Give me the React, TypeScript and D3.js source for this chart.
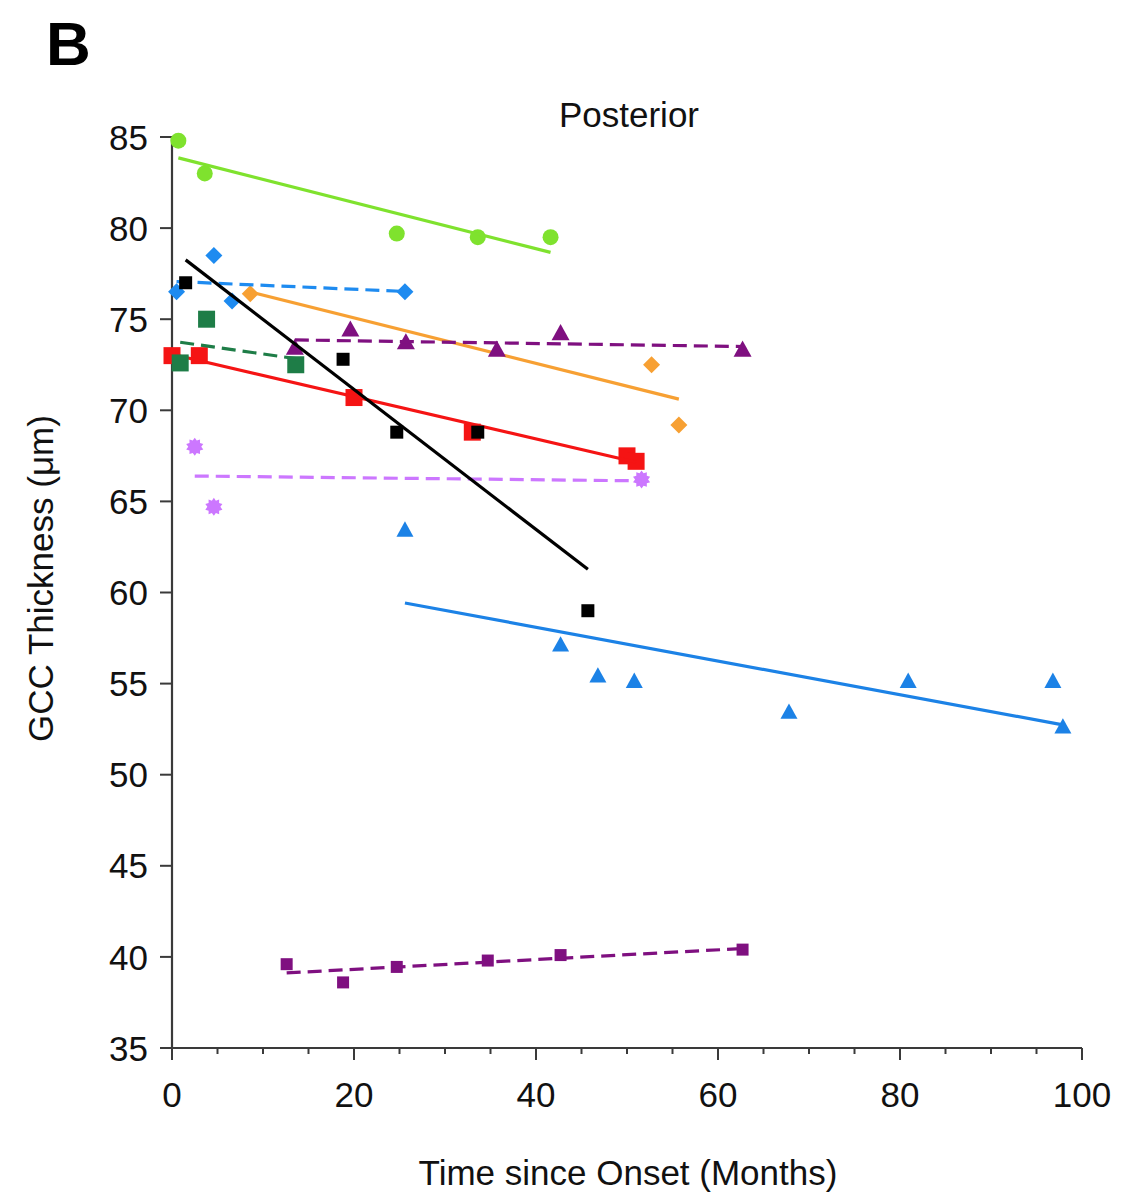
import React, { useEffect, useRef } from "react";
import * as d3 from "d3";

// ---- data ----
const xTicksMajor = [0, 20, 40, 60, 80, 100];
const yTicks = [35, 40, 45, 50, 55, 60, 65, 70, 75, 80, 85];

const limeX = [0.7, 3.6, 24.7, 33.6, 41.6];
const limeY = [84.8, 83.0, 79.7, 79.5, 79.5];

const blueDiaX = [0.5, 4.6, 6.6, 25.6];
const blueDiaY = [76.5, 78.5, 76.0, 76.5];

const blackX = [1.5, 18.8, 24.7, 33.6, 45.7];
const blackY = [77.0, 72.8, 68.8, 68.8, 59.0];

const orangeX = [8.6, 52.7, 55.7];
const orangeY = [76.4, 72.5, 69.2];

const purpleTriX = [13.5, 19.6, 25.7, 35.7, 42.7, 62.7];
const purpleTriY = [73.4, 74.4, 73.7, 73.3, 74.2, 73.3];

const greenSqX = [0.9, 3.8, 13.6];
const greenSqY = [72.6, 75.0, 72.5];

const redX = [0, 3.0, 20.0, 33.0, 50.0, 51.0];
const redY = [73.0, 73.0, 70.7, 68.8, 67.5, 67.2];

const violetX = [2.5, 4.6, 51.6];
const violetY = [68.0, 64.7, 66.2];

const blueTriX = [25.6, 42.7, 46.8, 50.8, 67.8, 80.9, 96.8, 97.9];
const blueTriY = [63.4, 57.1, 55.4, 55.1, 53.4, 55.1, 55.1, 52.6];

const purpleSqX = [12.6, 18.8, 24.7, 34.7, 42.7, 62.7];
const purpleSqY = [39.6, 38.6, 39.45, 39.8, 40.1, 40.4];

type Shape = "circle" | "diamond" | "square" | "triangle" | "star";

interface Series {
  xs: number[];
  ys: number[];
  color: string;
  shape: Shape;
  size: number;
  dashed: boolean;
}

const seriesList: Series[] = [
  { xs: purpleSqX, ys: purpleSqY, color: "#7F1080", shape: "square", size: 12, dashed: true },
  { xs: blueTriX, ys: blueTriY, color: "#1C82E6", shape: "triangle", size: 17, dashed: false },
  { xs: violetX, ys: violetY, color: "#CC77FF", shape: "star", size: 9, dashed: true },
  { xs: redX, ys: redY, color: "#F51414", shape: "square", size: 17, dashed: false },
  { xs: greenSqX, ys: greenSqY, color: "#1E7D47", shape: "square", size: 17, dashed: true },
  { xs: orangeX, ys: orangeY, color: "#F7A033", shape: "diamond", size: 17, dashed: false },
  { xs: purpleTriX, ys: purpleTriY, color: "#7F1080", shape: "triangle", size: 18, dashed: true },
  { xs: blueDiaX, ys: blueDiaY, color: "#1E8BF0", shape: "diamond", size: 17, dashed: true },
  { xs: blackX, ys: blackY, color: "#000000", shape: "square", size: 13, dashed: false },
  { xs: limeX, ys: limeY, color: "#7FE22E", shape: "circle", size: 16, dashed: false },
];

function fit(xs: number[], ys: number[]) {
  const mx = d3.mean(xs)!;
  const my = d3.mean(ys)!;
  let sxy = 0, sxx = 0;
  xs.forEach((x, i) => {
    sxy += (x - mx) * (ys[i] - my);
    sxx += (x - mx) * (x - mx);
  });
  const b = sxy / sxx;
  const a = my - b * mx;
  return (x: number) => a + b * x;
}

function markerPath(shape: Shape, s: number): string {
  if (shape === "circle") {
    const r = s / 2;
    return `M${-r},0A${r},${r} 0 1,0 ${r},0A${r},${r} 0 1,0 ${-r},0Z`;
  }
  if (shape === "square") {
    const h = s / 2;
    return `M${-h},${-h}H${h}V${h}H${-h}Z`;
  }
  if (shape === "diamond") {
    const h = s / 2;
    return `M0,${-h}L${h},0L0,${h}L${-h},0Z`;
  }
  if (shape === "triangle") {
    const hgt = s * 0.9;
    return `M0,${-hgt * 0.6}L${s / 2},${hgt * 0.4}L${-s / 2},${hgt * 0.4}Z`;
  }
  // star burst
  const pts: [number, number][] = [];
  const n = 10;
  for (let i = 0; i < n * 2; i++) {
    const r = i % 2 === 0 ? s : s * 0.72;
    const a = (Math.PI * i) / n - Math.PI / 2;
    pts.push([r * Math.cos(a), r * Math.sin(a)]);
  }
  return "M" + pts.map((p) => p.join(",")).join("L") + "Z";
}

const W = 1122;
const H = 1199;
const FONT = "'Liberation Sans', Arial, Helvetica, sans-serif";

export default function App() {
  const ref = useRef<SVGSVGElement | null>(null);

  useEffect(() => {
    const svg = d3.select(ref.current);
    svg.selectAll("*").remove();

    const x = d3.scaleLinear().domain([0, 100]).range([172, 1082]);
    const y = d3.scaleLinear().domain([35, 85]).range([1048, 137]);

    svg.append("rect").attr("width", W).attr("height", H).attr("fill", "#fff");

    // panel letter and title
    svg.append("text").attr("x", 46).attr("y", 65).attr("font-family", FONT)
      .attr("font-size", 62).attr("font-weight", "bold").attr("fill", "#000").text("B");
    svg.append("text").attr("x", 629).attr("y", 127).attr("text-anchor", "middle")
      .attr("font-family", FONT).attr("font-size", 35).attr("fill", "#111").text("Posterior");

    // axes
    const axisColor = "#3a3a3a";
    const g = svg.append("g");
    g.append("line").attr("x1", x(0)).attr("x2", x(0)).attr("y1", y(85)).attr("y2", y(35))
      .attr("stroke", axisColor).attr("stroke-width", 2.2);
    g.append("line").attr("x1", x(0)).attr("x2", x(100)).attr("y1", y(35)).attr("y2", y(35))
      .attr("stroke", axisColor).attr("stroke-width", 2.2);

    yTicks.forEach((t) => {
      g.append("line").attr("x1", x(0) - 12).attr("x2", x(0)).attr("y1", y(t)).attr("y2", y(t))
        .attr("stroke", axisColor).attr("stroke-width", 2);
      g.append("text").attr("x", x(0) - 24).attr("y", y(t)).attr("dy", "0.36em")
        .attr("text-anchor", "end").attr("font-family", FONT).attr("font-size", 35)
        .attr("fill", "#111").text(String(t));
    });

    const minor = d3.range(0, 101, 5);
    minor.forEach((t) => {
      const major = xTicksMajor.includes(t);
      g.append("line").attr("x1", x(t)).attr("x2", x(t)).attr("y1", y(35))
        .attr("y2", y(35) + (major ? 12 : 6))
        .attr("stroke", axisColor).attr("stroke-width", 2);
    });
    xTicksMajor.forEach((t) => {
      g.append("text").attr("x", x(t)).attr("y", 1107).attr("text-anchor", "middle")
        .attr("font-family", FONT).attr("font-size", 35).attr("fill", "#111").text(String(t));
    });

    svg.append("text").attr("x", 628).attr("y", 1185).attr("text-anchor", "middle")
      .attr("font-family", FONT).attr("font-size", 35).attr("fill", "#111")
      .text("Time since Onset (Months)");
    svg.append("text").attr("transform", `translate(53,${(395 + 762) / 2}) rotate(-90)`)
      .attr("text-anchor", "middle").attr("font-family", FONT).attr("font-size", 35)
      .attr("fill", "#111").text("GCC Thickness (μm)");

    // series
    seriesList.forEach((s) => {
      const f = fit(s.xs, s.ys);
      const x0 = d3.min(s.xs)!;
      const x1 = d3.max(s.xs)!;
      const sg = svg.append("g");
      sg.selectAll("path.m").data(s.xs).enter().append("path")
        .attr("class", "m")
        .attr("d", markerPath(s.shape, s.size))
        .attr("transform", (d, i) => `translate(${x(d)},${y(s.ys[i])})`)
        .attr("fill", s.color);
      sg.append("path")
        .attr("d", `M${x(x0)},${y(f(x0))}L${x(x1)},${y(f(x1))}`)
        .attr("fill", "none")
        .attr("stroke", s.color)
        .attr("stroke-width", 3.2)
        .attr("stroke-dasharray", s.dashed ? "14,7" : null);
    });
  }, []);

  return (
    <svg
      ref={ref}
      width={W}
      height={H}
      style={{ position: "absolute", left: 0, top: 0, display: "block" }}
    />
  );
}
